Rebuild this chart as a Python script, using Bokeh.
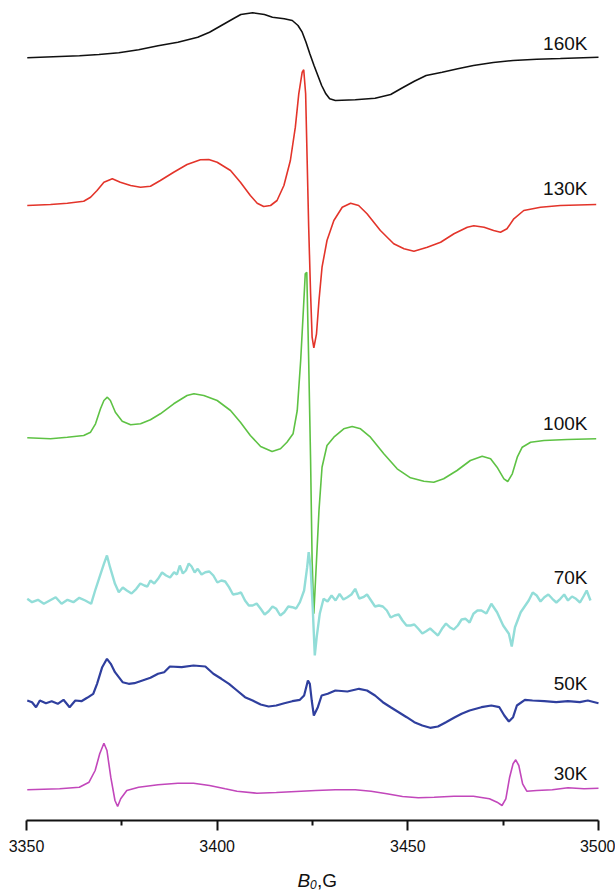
from bokeh.plotting import figure
from bokeh.models import Range1d, FixedTicker, Label
from bokeh.core.properties import value
from bokeh.embed import file_html
from bokeh.resources import INLINE

# ---------------- data (field B0 in G, stacked EPR signal in arbitrary units) ----------------
temps = ["160K", "130K", "100K", "70K", "50K", "30K"]
colors = ["#111111", "#e3342a", "#5ec244", "#92ddd8", "#2f3f9e", "#c247bb"]
label_y = [777, 632, 397, 243, 137, 47]

x_160 = [3350.2, 3358.7, 3363.9, 3369.0, 3374.2, 3379.4, 3384.5, 3389.7, 3394.9, 3398.0,
         3401.1, 3404.2, 3406.2, 3409.3, 3412.4, 3414.5, 3417.6, 3419.7, 3421.2, 3422.3,
         3423.3, 3424.3, 3425.4, 3426.4, 3427.4, 3428.5, 3429.5, 3431.0, 3436.2, 3441.4,
         3445.5, 3448.6, 3451.7, 3454.8, 3459.0, 3463.1, 3467.2, 3472.4, 3477.6, 3483.8,
         3490.0, 3500.0]
y_160 = [762.7, 764, 764.7, 766, 767.7, 770.7, 774.7, 778.3, 783.3, 788.3,
         795, 801.7, 806, 807.7, 806, 803.3, 801.7, 800, 795, 788.3,
         778.3, 766.7, 755, 745, 735, 726.7, 721.7, 720, 720.7, 722.3,
         726, 732.7, 739.3, 745, 748.3, 751.7, 755, 758, 760, 761.3,
         762, 763.3]

x_130 = [3350.2, 3356.3, 3360.7, 3365.0, 3366.8, 3368.5, 3370.3, 3372.5, 3374.6, 3377.3,
         3379.9, 3382.5, 3385.1, 3388.6, 3392.1, 3395.6, 3397.8, 3400.0, 3403.5, 3406.1,
         3408.7, 3410.5, 3412.2, 3414.0, 3415.7, 3417.5, 3419.2, 3420.5, 3421.4, 3422.3,
         3422.7, 3423.2, 3423.6, 3424.0, 3424.5, 3424.9, 3425.35, 3426.05, 3426.7, 3427.5,
         3428.8, 3430.6, 3432.8, 3435.0, 3437.1, 3439.3, 3442.8, 3446.3, 3449.0, 3451.6,
         3455.1, 3458.6, 3462.1, 3465.6, 3467.3, 3470.0, 3472.5, 3474.3, 3476.0, 3477.8,
         3480.4, 3484.8, 3490.0, 3499.4]
y_130 = [615, 616, 617.3, 619.3, 623.3, 630, 638.3, 641.7, 638.3, 635,
         633.3, 634.3, 640, 648.3, 656, 660.7, 661, 658.3, 650, 638.3,
         625, 617.3, 614, 615, 620, 635, 660, 693.3, 726.7, 748.3,
         750.7, 726.7, 660, 593.3, 526.7, 483.3, 472.7, 486.7, 520, 553.3,
         580, 600, 613.3, 617.3, 615, 606.7, 590, 576.7, 571.7, 569.3,
         573.3, 578.3, 586.7, 593.3, 594.7, 593.3, 590, 588.3, 591.7, 601.7,
         610, 613.3, 615, 616]

x_100 = [3350.2, 3356.3, 3360.7, 3365.0, 3366.8, 3368.1, 3369.4, 3370.3, 3371.2, 3372.0,
         3373.3, 3375.1, 3377.3, 3379.9, 3382.5, 3385.1, 3388.6, 3392.1, 3393.9, 3396.5,
         3400.0, 3403.5, 3406.1, 3408.7, 3411.4, 3414.4, 3416.6, 3418.3, 3419.9, 3421.0,
         3421.9, 3422.6, 3423.1, 3423.5, 3424.0, 3424.5, 3424.9, 3425.35, 3426.05, 3426.7,
         3427.5, 3428.8, 3430.6, 3433.2, 3435.4, 3437.6, 3440.2, 3443.7, 3447.2, 3450.7,
         3454.2, 3456.8, 3459.4, 3462.9, 3466.4, 3469.5, 3471.7, 3473.4, 3475.2, 3476.2,
         3477.4, 3478.7, 3480.0, 3482.2, 3485.7, 3491.8, 3499.4]
y_100 = [382.7, 381.7, 383.3, 385, 388.3, 396.7, 411.7, 420, 423.3, 420,
         408.3, 399.3, 395.7, 396.7, 400.7, 406.7, 416.7, 425, 426.7, 425,
         420, 410, 398.3, 385, 374, 369, 371.7, 378.3, 386.7, 410,
         460, 510, 546.7, 548.3, 460, 360, 260, 206.7, 260, 310,
         353.3, 375, 383.3, 391.7, 394, 391.7, 383.3, 366.7, 351.7, 342.7,
         339.3, 338.3, 341.7, 350, 360, 364.3, 361.7, 353.3, 341.7, 339,
         346.7, 363.3, 373.3, 378.3, 380, 381, 381.7]

x_70 = [3350.2, 3351.45, 3353.0, 3354.55, 3356.1, 3357.65, 3359.2, 3360.75, 3362.3, 3363.85,
        3365.4, 3366.95, 3368.0, 3369.0, 3370.3, 3371.1, 3371.9, 3373.2,
        3374.2, 3375.25, 3376.3, 3377.55, 3378.8, 3379.85, 3380.9, 3381.7, 3382.5, 3383.5,
        3384.5, 3385.55, 3386.6, 3387.65, 3388.7, 3389.45, 3390.2, 3391.0, 3391.8, 3392.55,
        3393.3, 3394.1, 3394.9, 3395.9, 3396.9, 3397.95, 3399.0, 3400.05, 3401.1, 3402.1,
        3403.1, 3404.15, 3405.2, 3406.25, 3407.3, 3408.3, 3409.3, 3410.35, 3411.4, 3412.45,
        3413.5, 3414.5, 3415.5, 3416.55, 3417.6, 3418.65, 3419.7, 3420.7, 3421.7,
        3422.8, 3423.6, 3424.0, 3424.5, 3425.05, 3425.6, 3426.1, 3426.9,
        3427.9, 3428.95, 3430.0, 3431.05, 3432.1, 3433.1, 3434.15, 3435.2, 3436.2, 3437.25,
        3438.3, 3439.3, 3440.35, 3441.4, 3442.4, 3443.45, 3444.5, 3445.5, 3446.55, 3447.6,
        3448.6, 3449.65, 3450.7, 3451.7, 3452.75, 3453.8, 3454.8, 3455.85, 3456.9, 3457.9,
        3458.95, 3460.0, 3461.0, 3462.05, 3463.1, 3464.1, 3465.15, 3466.2, 3467.2, 3468.25,
        3469.3, 3470.6, 3471.9,
        3473.4, 3475.0, 3476.5, 3477.25, 3478.1, 3479.6,
        3481.7, 3482.75, 3483.8, 3484.8, 3485.8, 3486.85, 3487.9, 3488.95, 3490.0, 3491.0,
        3492.0, 3493.05, 3494.1, 3495.15, 3496.2, 3496.9, 3497.9]
y_70 = [221.7, 218.3, 220.7, 216.7, 220, 223.3, 216.7, 220.7, 218.3, 222.7,
        220, 216.7, 230, 241.7, 256.7, 265, 253.3, 236.7,
        228.3, 233, 230, 227, 231.7, 237, 235, 234, 240, 237,
        241.7, 248, 245, 243, 248.3, 246, 255, 247, 250, 257,
        254, 248, 251.7, 246, 248.3, 249, 245, 238, 240, 239,
        233.3, 226, 226.7, 228, 220, 215, 215, 217, 211.7, 206,
        209.3, 214, 211.7, 205, 208.3, 214, 213.3, 212, 218.3,
        230, 253.3, 268.3, 253.3, 213.3, 165, 183.3, 206.7,
        221.7, 219, 225, 220, 226.7, 221, 223.3, 226, 231.7, 222,
        223.3, 226, 220, 214, 215, 214, 210, 203, 205, 206,
        200, 195, 195, 196, 191.7, 187, 189.3, 192, 188.3, 185,
        191.7, 197, 193.3, 191, 195, 201, 201.7, 198, 206.7, 210,
        210, 207, 216.7,
        208.3, 195, 186.7, 174, 193.3, 208.3,
        220, 228, 225, 219, 223.3, 226, 221.7, 218, 221.7, 226,
        220, 224, 221.7, 218, 225, 230, 220]

x_50 = [3350.2, 3351.45, 3352.5, 3353.5, 3355.1, 3356.6, 3358.2, 3359.7, 3361.3, 3362.8,
        3364.4, 3365.9, 3367.5, 3368.5, 3369.85, 3371.1, 3372.1, 3373.2, 3374.2, 3375.2,
        3376.8, 3378.3, 3380.4, 3382.5, 3384.5, 3386.1, 3387.6, 3390.7, 3393.8, 3396.9,
        3399.0, 3401.1, 3403.1, 3405.2, 3407.3, 3409.3, 3411.4, 3413.5, 3415.5, 3417.6,
        3419.7, 3421.7, 3422.8, 3423.8, 3424.3, 3424.8, 3425.35, 3426.4, 3427.4, 3429.0,
        3431.0, 3434.15, 3437.2, 3439.3, 3441.4, 3443.45, 3445.5, 3447.6, 3449.7, 3451.7,
        3453.8, 3455.85, 3457.9, 3460.0, 3462.1, 3464.1, 3466.2, 3469.3, 3471.9, 3474.0,
        3475.3, 3476.5, 3477.6, 3478.6, 3480.7, 3482.7, 3485.8, 3488.9, 3492.0, 3495.1,
        3497.2, 3500.0]
y_50 = [120, 118.3, 113.3, 120, 117.3, 119.3, 116.7, 120.7, 113.3, 120,
        119.3, 122.7, 126.7, 136.7, 153.3, 161.7, 156.7, 148.3, 143.3, 138.3,
        136.7, 137.3, 140, 142.7, 146.7, 148.3, 154, 153.3, 155, 154,
        146.7, 141.7, 136.7, 130, 123.3, 120, 116, 114, 115, 117.3,
        119.3, 120.7, 125, 140, 136.7, 120, 105, 113.3, 125, 126.7,
        130, 129, 131.7, 130, 125, 118.3, 113.3, 108.3, 103.3, 98.3,
        95, 92.7, 94, 98.3, 102.7, 106.7, 110, 113.3, 115, 113.3,
        105, 99, 103.3, 115, 120.7, 120, 119.3, 118.3, 119.3, 118.3,
        120, 117.3]

x_30 = [3350.2, 3358.7, 3363.85, 3366.4, 3368.0, 3369.2, 3370.3, 3371.1, 3372.1, 3373.2,
        3373.9, 3374.7, 3376.3, 3379.4, 3384.5, 3389.7, 3393.8, 3398.0, 3402.1, 3405.2,
        3410.4, 3415.5, 3420.7, 3425.9, 3431.0, 3436.2, 3440.35, 3444.5, 3448.6, 3452.75,
        3456.9, 3462.1, 3467.2, 3471.4, 3473.4, 3474.7, 3475.7, 3476.7, 3477.6, 3478.3,
        3479.1, 3480.1, 3481.2, 3483.8, 3487.9, 3492.0, 3496.2, 3500.0]
y_30 = [30.7, 31.7, 33.3, 38.3, 50, 66.7, 77.3, 70, 43.3, 20,
        14, 21.7, 30, 33.3, 35.7, 37.3, 37.3, 35, 31.7, 29.3,
        27.3, 28, 29, 30, 30.7, 30.7, 29.3, 26.7, 24, 22.7,
        23.3, 24.3, 24.3, 21.7, 18.3, 15, 21.7, 43.3, 56.7, 60.7,
        55, 36.7, 29.3, 30, 30.7, 32.7, 31.7, 32.3]

xs = [x_160, x_130, x_100, x_70, x_50, x_30]
ys = [y_160, y_130, y_100, y_70, y_50, y_30]
widths = [1.6, 1.6, 1.6, 2.4, 2.2, 1.6]

field_min, field_max = 3350, 3500
major_ticks = [3350, 3400, 3450, 3500]
minor_ticks = [3375, 3425, 3475]

# ---------------- figure ----------------
W, H = 615, 893
# frame spans the whole canvas; the visible field axis covers 3350..3500 only
p = figure(width=W, height=H, output_backend="svg", toolbar_location=None,
           x_range=Range1d(3343.18, 3504.46), y_range=Range1d(-73, 820),
           min_border_left=0, min_border_right=0, min_border_top=0, min_border_bottom=0)
p.outline_line_color = None
p.grid.visible = False
p.yaxis.visible = False
p.background_fill_color = "white"
p.border_fill_color = "white"

for x, y, c, w in zip(xs, ys, colors, widths):
    n = min(len(x), len(y))
    p.line(x[:n], y[:n], line_color=c, line_width=w)

p.text(x=[3497.1] * len(temps), y=label_y, text=temps,
       text_align="right", text_baseline="middle",
       text_font=value("Liberation Sans"), text_font_size="19px", text_color="#111111")

ax = p.xaxis[0]
ax.fixed_location = 0
ax.bounds = (field_min, field_max)
ax.ticker = FixedTicker(ticks=major_ticks, minor_ticks=minor_ticks)
ax.axis_line_width = 2
ax.axis_line_color = "#111111"
ax.major_tick_line_width = 2
ax.major_tick_line_color = "#111111"
ax.minor_tick_line_width = 2
ax.minor_tick_line_color = "#111111"
ax.major_tick_in = 0
ax.major_tick_out = 10
ax.minor_tick_in = 0
ax.minor_tick_out = 5
ax.major_label_standoff = 9
ax.major_label_text_font = "Liberation Sans"
ax.major_label_text_font_size = "16px"
ax.major_label_text_color = "#111111"

# axis title "B0,G" with italic B and subscript 0 (canvas units, y measured from the top)
common = dict(x_units="canvas", y_units="canvas", text_align="left",
              text_font="Liberation Sans", text_color="#111111", text_baseline="alphabetic")
p.add_layout(Label(x=297, y=880, text="B", text_font_style="italic", text_font_size="19px", **common))
p.add_layout(Label(x=309.5, y=884, text="0", text_font_style="italic", text_font_size="12px", **common))
p.add_layout(Label(x=316.5, y=880, text=",G", text_font_size="19px", **common))

open("out.html", "w").write(file_html(p, INLINE))
